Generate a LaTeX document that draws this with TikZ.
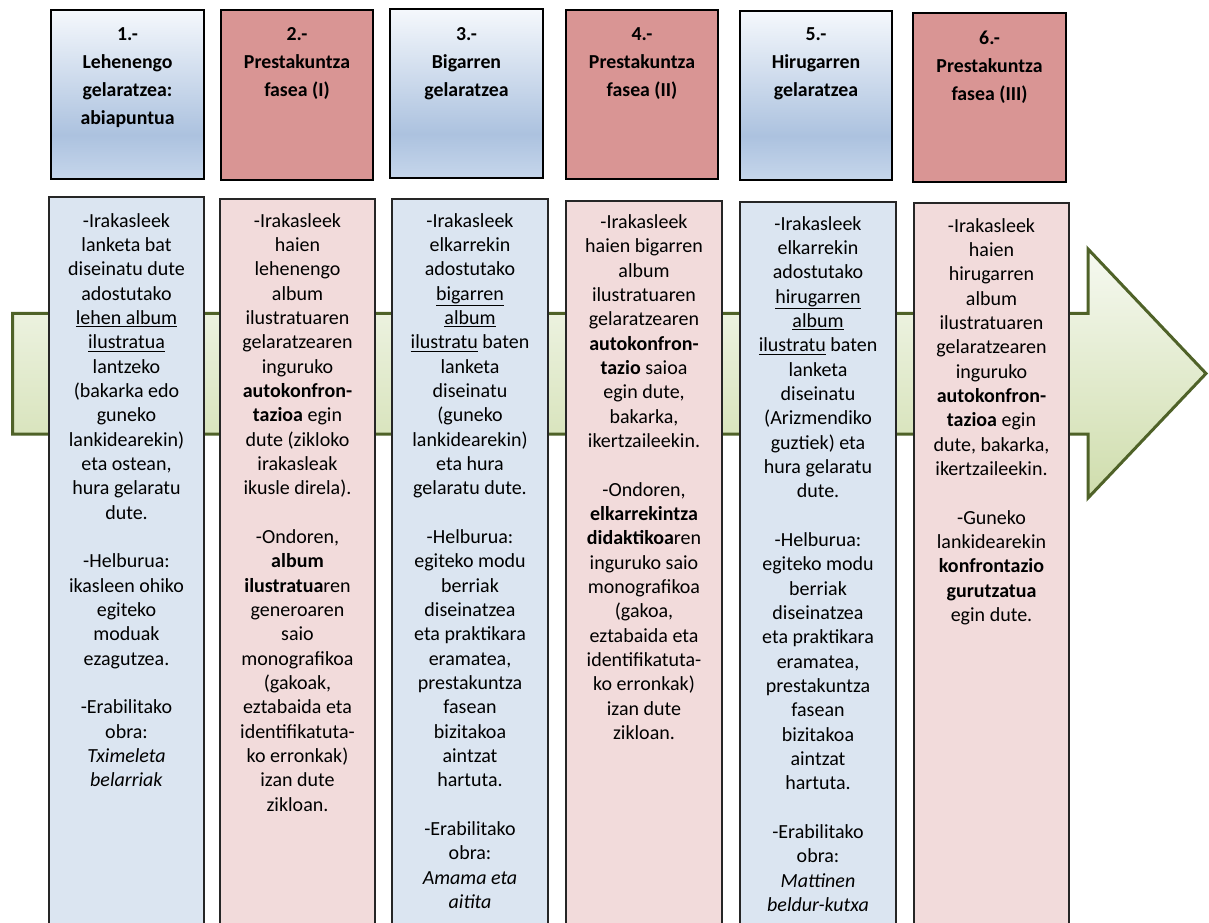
\documentclass[tikz,border=0pt]{standalone}
\usepackage{fontspec}
\setmainfont{Carlito}

\definecolor{hdrred}{RGB}{217,149,148}
\definecolor{bodyblue}{RGB}{219,229,241}
\definecolor{bodyred}{RGB}{242,219,219}
\definecolor{hbtop}{RGB}{245,248,252}
\definecolor{hbmid}{RGB}{172,194,223}
\definecolor{hbbot}{RGB}{198,214,235}
\definecolor{arrowline}{RGB}{79,98,40}
\definecolor{arrowtop}{RGB}{246,249,241}
\definecolor{arrowbot}{RGB}{207,221,172}

% blue header gradient (path covers 25bp..75bp)
\pgfdeclareverticalshading{hdrblue}{100bp}{color(0bp)=(hbbot); color(25bp)=(hbbot); color(38bp)=(hbmid); color(75bp)=(hbtop); color(100bp)=(hbtop)}

\begin{document}
\begin{tikzpicture}[x=0.75pt, y=-0.75pt,
    hdrbox/.style={draw=black, line width=1.5pt},
    bodybox/.style={draw=black!85, line width=1.1pt},
    hdrtext/.style={anchor=north, align=center, inner sep=0pt,
        font=\fontsize{14.85pt}{21pt}\selectfont\bfseries},
    bodytext/.style={anchor=north, align=center, inner sep=0pt,
        font=\fontsize{15pt}{18.25pt}\selectfont}]

    \clip (0,0) rectangle (1209,923);

    % Big arrow behind the columns
    \shadedraw[top color=arrowtop, bottom color=arrowbot, draw=arrowline, line width=2.25pt]
        (12.5,313.5) -- (1088,313.5) -- (1088,249) -- (1206,373.5)
        -- (1088,498) -- (1088,434) -- (12.5,434) -- cycle;

    % Header boxes
    \shadedraw[hdrbox, shading=hdrblue] (51,10) rectangle (204,179);
    \filldraw[hdrbox, fill=hdrred] (221,10) rectangle (373,180);
    \shadedraw[hdrbox, shading=hdrblue] (390,9) rectangle (543,178);
    \filldraw[hdrbox, fill=hdrred] (566,10) rectangle (718,179);
    \shadedraw[hdrbox, shading=hdrblue] (740,11) rectangle (892,180);
    \filldraw[hdrbox, fill=hdrred] (913,13) rectangle (1066,182);

    \node[hdrtext] (h1) at (127.5,27) {1.-\\Lehenengo\\gelaratzea:\\abiapuntua};
    \node[hdrtext] (h2) at (297,27) {2.-\\Prestakuntza\\fasea (I)};
    \node[hdrtext] (h3) at (466.5,27) {3.-\\Bigarren\\gelaratzea};
    \node[hdrtext] (h4) at (642,27) {4.-\\Prestakuntza\\fasea (II)};
    \node[hdrtext] (h5) at (816,27) {5.-\\Hirugarren\\gelaratzea};
    \node[hdrtext] (h6) at (989.5,31) {6.-\\Prestakuntza\\fasea (III)};

    % Body boxes (run off the bottom)
    \filldraw[bodybox, fill=bodyblue] (49,197) rectangle (204,930);
    \filldraw[bodybox, fill=bodyred] (220,199) rectangle (375,930);
    \filldraw[bodybox, fill=bodyblue] (392,199) rectangle (548,930);
    \filldraw[bodybox, fill=bodyred] (566,201) rectangle (722,930);
    \filldraw[bodybox, fill=bodyblue] (740,202) rectangle (896,930);
    \filldraw[bodybox, fill=bodyred] (914,203) rectangle (1069,930);

    \node[bodytext] (b1) at (126.5,213) {-Irakasleek\\lanketa bat\\diseinatu dute\\adostutako\\
        \underline{lehen album}\\\underline{ilustratua}\\lantzeko\\(bakarka edo\\guneko\\
        lankidearekin)\\eta ostean,\\hura gelaratu\\dute.\\ \\-Helburua:\\ikasleen ohiko\\
        egiteko\\moduak\\ezagutzea.\\ \\-Erabilitako\\obra:\\\textit{Tximeleta}\\\textit{belarriak}};
    \node[bodytext] (b2) at (297.5,213) {-Irakasleek\\haien\\lehenengo\\album\\ilustratuaren\\
        gelaratzearen\\inguruko\\\textbf{autokonfron-}\\\textbf{tazioa} egin\\dute (zikloko\\
        irakasleak\\ikusle direla).\\ \\-Ondoren,\\\textbf{album}\\\textbf{ilustratua}ren\\
        generoaren\\saio\\monografikoa\\(gakoak,\\eztabaida eta\\identifikatuta-\\
        ko erronkak)\\izan dute\\zikloan.};
    \node[bodytext] (b3) at (470,213) {-Irakasleek\\elkarrekin\\adostutako\\\underline{bigarren}\\
        \underline{album}\\\underline{ilustratu} baten\\lanketa\\diseinatu\\(guneko\\
        lankidearekin)\\eta hura\\gelaratu dute.\\ \\-Helburua:\\egiteko modu\\berriak\\
        diseinatzea\\eta praktikara\\eramatea,\\prestakuntza\\fasean\\bizitakoa\\aintzat\\
        hartuta.\\ \\-Erabilitako\\obra:\\\textit{Amama eta}\\\textit{aitita}};
    \node[bodytext] (b4) at (644,214.5) {-Irakasleek\\haien bigarren\\album\\ilustratuaren\\
        gelaratzearen\\\textbf{autokonfron-}\\\textbf{tazio} saioa\\egin dute,\\bakarka,\\
        ikertzaileekin.\\ \\-Ondoren,\\\textbf{elkarrekintza}\\\textbf{didaktikoa}ren\\
        inguruko saio\\monografikoa\\(gakoa,\\eztabaida eta\\identifikatuta-\\
        ko erronkak)\\izan dute\\zikloan.};
    \node[bodytext] (b5) at (818,216) {-Irakasleek\\elkarrekin\\adostutako\\\underline{hirugarren}\\
        \underline{album}\\\underline{ilustratu} baten\\lanketa\\diseinatu\\(Arizmendiko\\
        guztiek) eta\\hura gelaratu\\dute.\\ \\-Helburua:\\egiteko modu\\berriak\\
        diseinatzea\\eta praktikara\\eramatea,\\prestakuntza\\fasean\\bizitakoa\\aintzat\\
        hartuta.\\ \\-Erabilitako\\obra:\\\textit{Mattinen}\\\textit{beldur-kutxa}};
    \node[bodytext] (b6) at (991.5,218) {-Irakasleek\\haien\\hirugarren\\album\\ilustratuaren\\
        gelaratzearen\\inguruko\\\textbf{autokonfron-}\\\textbf{tazioa} egin\\dute, bakarka,\\
        ikertzaileekin.\\ \\-Guneko\\lankidearekin\\\textbf{konfrontazio}\\\textbf{gurutzatua}\\
        egin dute.};

\end{tikzpicture}
\end{document}
